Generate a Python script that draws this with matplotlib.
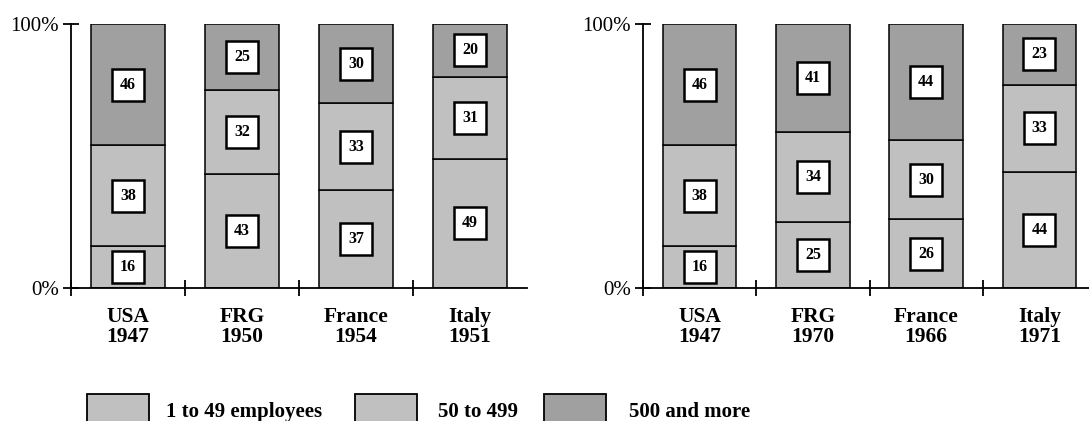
import numpy as np
import matplotlib
matplotlib.use("Agg")
import matplotlib.pyplot as plt
from matplotlib.patches import Rectangle

plt.rcParams['font.family'] = ['Liberation Serif', 'DejaVu Serif']

# Data: share of employment by establishment size (%)
categories_left = ["USA\n1947", "FRG\n1950", "France\n1954", "Italy\n1951"]
small_left = [16, 43, 37, 49]
medium_left = [38, 32, 33, 31]
large_left = [46, 25, 30, 20]

categories_right = ["USA\n1947", "FRG\n1970", "France\n1966", "Italy\n1971"]
small_right = [16, 25, 26, 44]
medium_right = [38, 34, 30, 33]
large_right = [46, 41, 44, 23]

legend_labels = ["1 to 49 employees", "50 to 499", "500 and more"]
seg_colors = ["#c0c0c0", "#c0c0c0", "#a0a0a0"]

W, H = 1089, 421
fig = plt.figure(figsize=(W / 100, H / 100), dpi=100)


def draw_panel(ax, cats, small, medium, large):
    x = np.arange(len(cats))
    bottom = np.zeros(len(cats))
    for vals, col in zip([small, medium, large], seg_colors):
        vals = np.array(vals, dtype=float)
        ax.bar(x, vals, bottom=bottom, width=0.65, color=col,
               edgecolor="black", linewidth=1.1, zorder=2)
        for xi, b, v in zip(x, bottom, vals):
            ax.text(xi, b + v / 2, f"{int(v)}", ha="center", va="center",
                    fontsize=11.5, fontweight="bold", zorder=3,
                    bbox=dict(boxstyle="square,pad=0.5", facecolor="white",
                              edgecolor="black", linewidth=1.8))
        bottom += vals

    ax.set_xlim(-0.5, len(cats) - 0.5)
    ax.set_ylim(0, 100)
    for s in ["top", "right"]:
        ax.spines[s].set_visible(False)
    for s in ["left", "bottom"]:
        ax.spines[s].set_linewidth(1.3)

    ax.set_yticks([0, 100])
    ax.set_yticklabels(["0%", "100%"], fontsize=15)
    ax.tick_params(axis="y", direction="inout", length=11, width=1.3, pad=3)

    ax.set_xticks(x)
    ax.set_xticklabels(cats, fontsize=15.5, fontweight="bold", linespacing=1.0)
    ax.tick_params(axis="x", which="major", length=0, pad=14)
    ax.set_xticks(np.arange(-0.5, len(cats) - 1), minor=True)
    ax.tick_params(axis="x", which="minor", direction="inout", length=11, width=1.3)


ax1 = fig.add_axes([71 / W, 133 / H, 456 / W, 264 / H])
draw_panel(ax1, categories_left, small_left, medium_left, large_left)

ax2 = fig.add_axes([643 / W, 133 / H, 453 / W, 264 / H])
draw_panel(ax2, categories_right, small_right, medium_right, large_right)

# Legend along the bottom edge
patch_x = [87, 355, 544]
text_x = [166, 438, 629]
for px, tx, lab, col in zip(patch_x, text_x, legend_labels, seg_colors):
    fig.patches.append(Rectangle((px / W, -10 / H), 62 / W, 37 / H,
                                 transform=fig.transFigure, facecolor=col,
                                 edgecolor="black", linewidth=1.3))
    fig.text(tx / W, 4 / H, lab, fontsize=15, fontweight="bold",
             ha="left", va="baseline")

fig.savefig("out.png", dpi=100)
